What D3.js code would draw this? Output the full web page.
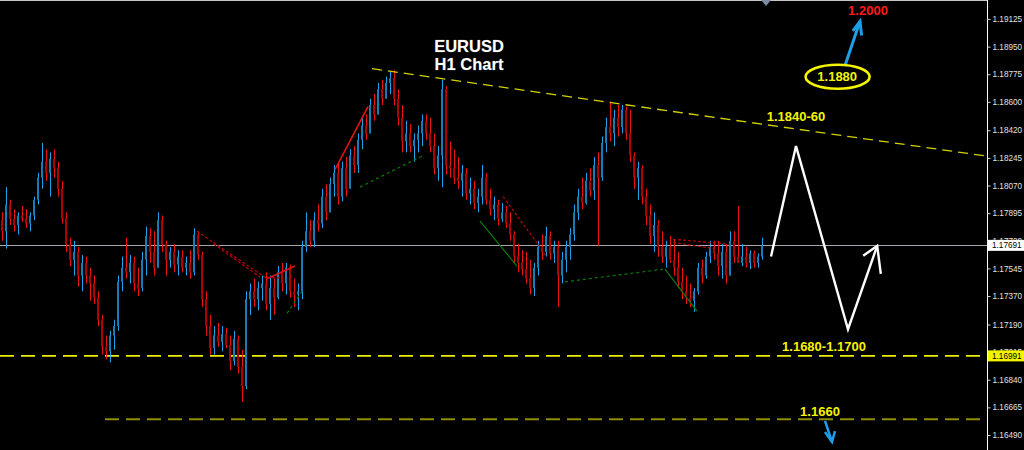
<!DOCTYPE html>
<html><head><meta charset="utf-8">
<script src="https://cdn.jsdelivr.net/npm/d3@7"></script>
<style>html,body{margin:0;padding:0;background:#000;overflow:hidden}svg{display:block}</style>
</head><body>
<svg id="chart" width="1024" height="450"></svg>
<script>
// ---------- DATA ----------
const open0 = 1.1785;
const highs = [
1.1790,1.1806,1.1798,1.1792,1.1790,1.1794,1.1792,1.1790,1.1800,1.1815,
1.1834,1.1830,1.1828,1.1830,1.1822,1.1810,1.1790,1.1774,1.1772,1.1768,
1.1763,1.1762,1.1755,1.1750,1.1740,1.1725,1.1712,1.1715,1.1722,1.1750,
1.1762,1.1774,1.1763,1.1762,1.1755,1.1765,1.1781,1.1780,1.1778,1.1790,
1.1788,1.1772,1.1768,1.1770,1.1766,1.1766,1.1762,1.1766,1.1780,1.1778,
1.1765,1.1740,1.1725,1.1718,1.1720,1.1718,1.1717,1.1712,1.1715,1.1712,
1.1703,1.1740,1.1745,1.1748,1.1746,1.1750,1.1752,1.1750,1.1748,1.1756,
1.1758,1.1758,1.1757,1.1748,1.1745,1.1772,1.1790,1.1785,1.1790,1.1795,
1.1805,1.1808,1.1812,1.1820,1.1822,1.1822,1.1825,1.1830,1.1832,1.1840,
1.1850,1.1852,1.1862,1.1865,1.1872,1.1874,1.1876,1.1879,1.1880,1.1868,
1.1858,1.1848,1.1846,1.1840,1.1845,1.1852,1.1852,1.1850,1.1840,1.1832,
1.1874,1.1870,1.1835,1.1830,1.1825,1.1820,1.1818,1.1812,1.1810,1.1805,
1.1820,1.1815,1.1805,1.1800,1.1798,1.1796,1.1794,1.1790,1.1778,1.1770,
1.1766,1.1765,1.1760,1.1758,1.1772,1.1776,1.1781,1.1778,1.1772,1.1772,
1.1765,1.1772,1.1780,1.1795,1.1805,1.1812,1.1815,1.1818,1.1825,1.1828,
1.1838,1.1850,1.1860,1.1855,1.1858,1.1858,1.1857,1.1855,1.1828,1.1822,
1.1820,1.1805,1.1795,1.1790,1.1785,1.1778,1.1772,1.1775,1.1773,1.1765,
1.1755,1.1750,1.1745,1.1742,1.1758,1.1760,1.1765,1.1772,1.1772,1.1772,
1.1770,1.1770,1.1778,1.1778,1.1794,1.1770,1.1768,1.1766,1.1766,1.1764,
1.1774];
const lows = [
1.1772,1.1767,1.1782,1.1778,1.1776,1.1784,1.1780,1.1778,1.1785,1.1795,
1.1805,1.1810,1.1800,1.1812,1.1800,1.1783,1.1765,1.1756,1.1750,1.1743,
1.1740,1.1745,1.1734,1.1732,1.1718,1.1700,1.1697,1.1695,1.1703,1.1715,
1.1740,1.1748,1.1745,1.1740,1.1737,1.1740,1.1750,1.1758,1.1750,1.1760,
1.1765,1.1750,1.1755,1.1752,1.1750,1.1752,1.1750,1.1748,1.1750,1.1760,
1.1730,1.1712,1.1700,1.1700,1.1705,1.1702,1.1704,1.1690,1.1693,1.1688,
1.1670,1.1678,1.1725,1.1730,1.1728,1.1734,1.1728,1.1722,1.1725,1.1735,
1.1740,1.1738,1.1736,1.1730,1.1728,1.1735,1.1765,1.1768,1.1768,1.1778,
1.1780,1.1785,1.1790,1.1800,1.1795,1.1797,1.1800,1.1805,1.1815,1.1815,
1.1830,1.1836,1.1840,1.1848,1.1852,1.1858,1.1862,1.1865,1.1858,1.1845,
1.1828,1.1828,1.1828,1.1822,1.1828,1.1832,1.1836,1.1828,1.1814,1.1810,
1.1806,1.1814,1.1812,1.1808,1.1805,1.1800,1.1798,1.1795,1.1792,1.1790,
1.1795,1.1795,1.1788,1.1785,1.1782,1.1784,1.1780,1.1772,1.1758,1.1752,
1.1750,1.1745,1.1738,1.1737,1.1750,1.1760,1.1762,1.1760,1.1758,1.1730,
1.1745,1.1752,1.1760,1.1772,1.1785,1.1792,1.1795,1.1800,1.1798,1.1769,
1.1810,1.1828,1.1835,1.1832,1.1838,1.1840,1.1836,1.1822,1.1805,1.1798,
1.1795,1.1782,1.1770,1.1765,1.1762,1.1758,1.1755,1.1758,1.1750,1.1742,
1.1735,1.1732,1.1730,1.1727,1.1738,1.1745,1.1748,1.1758,1.1760,1.1750,
1.1748,1.1745,1.1750,1.1758,1.1760,1.1756,1.1755,1.1754,1.1755,1.1755,
1.1760];
const closes = [
1.1778,1.1795,1.1786,1.1782,1.1788,1.1786,1.1783,1.1788,1.1798,1.1812,
1.1822,1.1815,1.1824,1.1818,1.1805,1.1786,1.1770,1.1760,1.1765,1.1750,
1.1758,1.1750,1.1745,1.1736,1.1722,1.1705,1.1702,1.1712,1.1718,1.1746,
1.1755,1.1752,1.1758,1.1745,1.1742,1.1760,1.1775,1.1765,1.1755,1.1785,
1.1770,1.1760,1.1765,1.1757,1.1762,1.1755,1.1758,1.1752,1.1776,1.1763,
1.1735,1.1718,1.1704,1.1712,1.1708,1.1713,1.1706,1.1696,1.1710,1.1692,
1.1680,1.1735,1.1740,1.1735,1.1742,1.1745,1.1732,1.1742,1.1736,1.1752,
1.1745,1.1755,1.1740,1.1738,1.1740,1.1768,1.1778,1.1772,1.1785,1.1783,
1.1800,1.1790,1.1808,1.1815,1.1800,1.1818,1.1805,1.1826,1.1820,1.1836,
1.1845,1.1840,1.1858,1.1852,1.1868,1.1862,1.1872,1.1875,1.1862,1.1850,
1.1835,1.1840,1.1832,1.1836,1.1840,1.1848,1.1840,1.1832,1.1818,1.1826,
1.1868,1.1820,1.1818,1.1812,1.1810,1.1815,1.1802,1.1805,1.1796,1.1800,
1.1812,1.1798,1.1792,1.1795,1.1786,1.1790,1.1783,1.1776,1.1762,1.1758,
1.1754,1.1748,1.1742,1.1755,1.1768,1.1765,1.1775,1.1764,1.1768,1.1750,
1.1760,1.1768,1.1776,1.1790,1.1800,1.1796,1.1810,1.1804,1.1820,1.1812,
1.1834,1.1844,1.1840,1.1850,1.1844,1.1855,1.1840,1.1826,1.1812,1.1818,
1.1800,1.1788,1.1775,1.1782,1.1768,1.1762,1.1768,1.1760,1.1755,1.1746,
1.1740,1.1736,1.1734,1.1740,1.1755,1.1750,1.1762,1.1768,1.1764,1.1756,
1.1765,1.1750,1.1772,1.1762,1.1758,1.1762,1.1758,1.1764,1.1758,1.1762,
1.1769];

const tickValues = [1.19125,1.18950,1.18775,1.18600,1.18420,1.18245,1.18070,1.17895,
  1.17720,1.17545,1.17370,1.17190,1.17015,1.16840,1.16665,1.16490];
const currentPrice = 1.17691;
const supportLevel = 1.16991;
const targetLevel = 1.1659;
const targetLevelStart = 25.75;

// annotation geometry in data space: [bar index, price]
const trendLine = [[92.5,1.1881],[246.25,1.18256]];
const redSolidLines = [[[83.25,1.1817],[91.5,1.1857]], [[66.25,1.1748],[73.25,1.1756]]];
const redDashedLines = [[[48.75,1.1778],[66.25,1.1748]], [[52.9,1.1770],[64.5,1.1749]],
  [[66.25,1.17485],[70.25,1.17485]], [[125.25,1.1800],[136.25,1.1762]],
  [[167.75,1.1773],[181.25,1.1770]], [[167.75,1.1771],[178.25,1.1767]]];
const greenDottedLines = [[[89.5,1.1806],[105.25,1.1826]], [[71.25,1.1726],[75,1.1740]],
  [[140.75,1.1746],[165.25,1.1754]]];
const greenSolidLines = [[[119.5,1.17845],[128.75,1.1756]], [[165.75,1.1754],[173.75,1.17275]]];
const scenarioPath = [[192.25,1.1762],[198.5,1.1832],[211.5,1.1716],[218.8,1.17688]];
const scenarioHead = [[215.3,1.17625],[218.8,1.17688],[219.7,1.1751]];
const upArrow = [[210.75,1.1883],[214.5,1.1911]];
const upArrowHead = [[212.7,1.1905],[214.5,1.1911],[214.9,1.1902]];
const downArrow = [[205.75,1.1658],[207.5,1.16446]];
const downArrowHead = [[205.75,1.16509],[207.5,1.16446],[208.25,1.16515]];
const ellipseCenter = [208.9,1.18759];
const levelLabels = [
  {text:"1.2000", idx:216.5, price:1.19149, color:"#ff1a1a"},
  {text:"1.1880", idx:208.8, price:1.18731, color:"#f4f400"},
  {text:"1.1840-60", idx:198.5, price:1.18478, color:"#f4f400"},
  {text:"1.1680-1.1700", idx:205.5, price:1.17022, color:"#f4f400"},
  {text:"1.1660", idx:204.5, price:1.1661, color:"#f4f400"}
];
const titleLines = ["EURUSD","H1 Chart"];

// ---------- CHART ----------
const W = 1024, H = 450, axisX = 987;
const svg = d3.select("#chart");
svg.append("rect").attr("width",W).attr("height",H).attr("fill","#000");

const x = d3.scaleLinear().domain([0,190]).range([2,762]);
const y = d3.scaleLinear().domain([1.16395,1.19245]).range([H,0]);

const candles = closes.map((c,i)=>({i, o: i===0?open0:closes[i-1], h: highs[i], l: lows[i], c}));

// top border + marker
svg.append("line").attr("x1",0).attr("x2",axisX).attr("y1",0.5).attr("y2",0.5).attr("stroke","#c8c8c8");
svg.append("path").attr("d","M761,0 L771,0 L766,6 Z").attr("fill","#7d8ca0");

const line = d3.line().x(d=>x(d[0])).y(d=>y(d[1]));

// current price line
svg.append("line").attr("x1",0).attr("x2",axisX).attr("y1",Math.round(y(currentPrice))+0.5).attr("y2",Math.round(y(currentPrice))+0.5)
  .attr("stroke","#a8a8b0").attr("stroke-width",1);

// support level
svg.append("line").attr("x1",0).attr("x2",axisX).attr("y1",y(supportLevel)).attr("y2",y(supportLevel))
  .attr("stroke","#ecec00").attr("stroke-width",1.6).attr("stroke-dasharray","14,7");
// target level
svg.append("line").attr("x1",x(targetLevelStart)).attr("x2",axisX).attr("y1",y(targetLevel)).attr("y2",y(targetLevel))
  .attr("stroke","#8f8f00").attr("stroke-width",2).attr("stroke-dasharray","14,7");

// candles
const cg = svg.append("g");
candles.forEach(d=>{
  const bull = d.c >= d.o;
  const cx = Math.round(x(d.i));
  const top = y(Math.max(d.h,d.o,d.c)), bot = y(Math.min(d.l,d.o,d.c));
  cg.append("rect").attr("x",cx).attr("y",top).attr("width",1).attr("height",Math.max(1,bot-top))
    .attr("fill", bull?"#1ea2ea":"#f01212");
  const bt = y(Math.max(d.o,d.c)), bb = y(Math.min(d.o,d.c));
  cg.append("rect").attr("x",cx-1).attr("y",bt).attr("width",2).attr("height",Math.max(1,bb-bt))
    .attr("fill", bull?"#167cb8":"#b00000");
});

// overlays
const og = svg.append("g").attr("fill","none");
redSolidLines.forEach(s=>og.append("path").attr("d",line(s)).attr("stroke","#e01414").attr("stroke-width",1.6));
redDashedLines.forEach(s=>og.append("path").attr("d",line(s)).attr("stroke","#b80000").attr("stroke-width",1.2).attr("stroke-dasharray","3,2"));
greenDottedLines.forEach(s=>og.append("path").attr("d",line(s)).attr("stroke","#0a7a0a").attr("stroke-width",1.2).attr("stroke-dasharray","3,3"));
greenSolidLines.forEach(s=>og.append("path").attr("d",line(s)).attr("stroke","#0c7a0c").attr("stroke-width",1.2));

// trend line
og.append("path").attr("d",line(trendLine)).attr("stroke","#d2d200").attr("stroke-width",1.3).attr("stroke-dasharray","10,6");

// scenario zigzag
og.append("path").attr("d",line(scenarioPath)).attr("stroke","#ffffff").attr("stroke-width",2.4).attr("stroke-linejoin","miter");
og.append("path").attr("d",line(scenarioHead)).attr("stroke","#ffffff").attr("stroke-width",2.4);

// blue arrows
og.append("path").attr("d",line(upArrow)).attr("stroke","#1e9ee6").attr("stroke-width",3);
og.append("path").attr("d",line(upArrowHead)).attr("stroke","#1e9ee6").attr("stroke-width",3);
og.append("path").attr("d",line(downArrow)).attr("stroke","#1e9ee6").attr("stroke-width",2.5);
og.append("path").attr("d",line(downArrowHead)).attr("stroke","#1e9ee6").attr("stroke-width",2.5);

// ellipse
og.append("ellipse").attr("cx",x(ellipseCenter[0])).attr("cy",y(ellipseCenter[1])).attr("rx",32).attr("ry",12)
  .attr("stroke","#f4f400").attr("stroke-width",2.6);

// labels
levelLabels.forEach(l=>{
  svg.append("text").attr("x",x(l.idx)).attr("y",y(l.price)).attr("text-anchor","middle")
    .attr("font-family","Liberation Sans, Arial, sans-serif").attr("font-weight","bold").attr("font-size",13)
    .attr("fill",l.color).text(l.text);
});

// title
titleLines.forEach((t,k)=>{
  svg.append("text").attr("x",469).attr("y",52+k*18).attr("text-anchor","middle")
    .attr("font-family","Liberation Sans, Arial, sans-serif").attr("font-weight","bold").attr("font-size",16.5)
    .attr("fill","#ffffff").attr("stroke","#555").attr("stroke-width",0.4).attr("paint-order","stroke").text(t);
});

// axis
const axis = d3.axisRight(y).tickValues(tickValues).tickFormat(d3.format(".5f")).tickSize(3).tickPadding(2);
const ag = svg.append("g").attr("transform",`translate(${axisX+0.5},0)`).call(axis);
ag.select(".domain").attr("stroke","#ffffff").attr("d",`M0,0V${H}`);
ag.selectAll(".tick line").attr("stroke","#d0d0d0");
ag.selectAll(".tick text").attr("fill","#e0e0e0").attr("font-family","Liberation Sans, Arial, sans-serif").attr("font-size",8.2);

// price boxes
function priceBox(p, bg){
  const yy = y(p);
  svg.append("rect").attr("x",axisX+1).attr("y",yy-5.5).attr("width",W-axisX-1).attr("height",11).attr("fill",bg);
  svg.append("text").attr("x",axisX+5).attr("y",yy+3).attr("fill","#000")
    .attr("font-family","Liberation Sans, Arial, sans-serif").attr("font-size",8.2).text(d3.format(".5f")(p));
}
priceBox(currentPrice,"#ffffff");
priceBox(supportLevel,"#f4f400");
</script>
</body></html>
